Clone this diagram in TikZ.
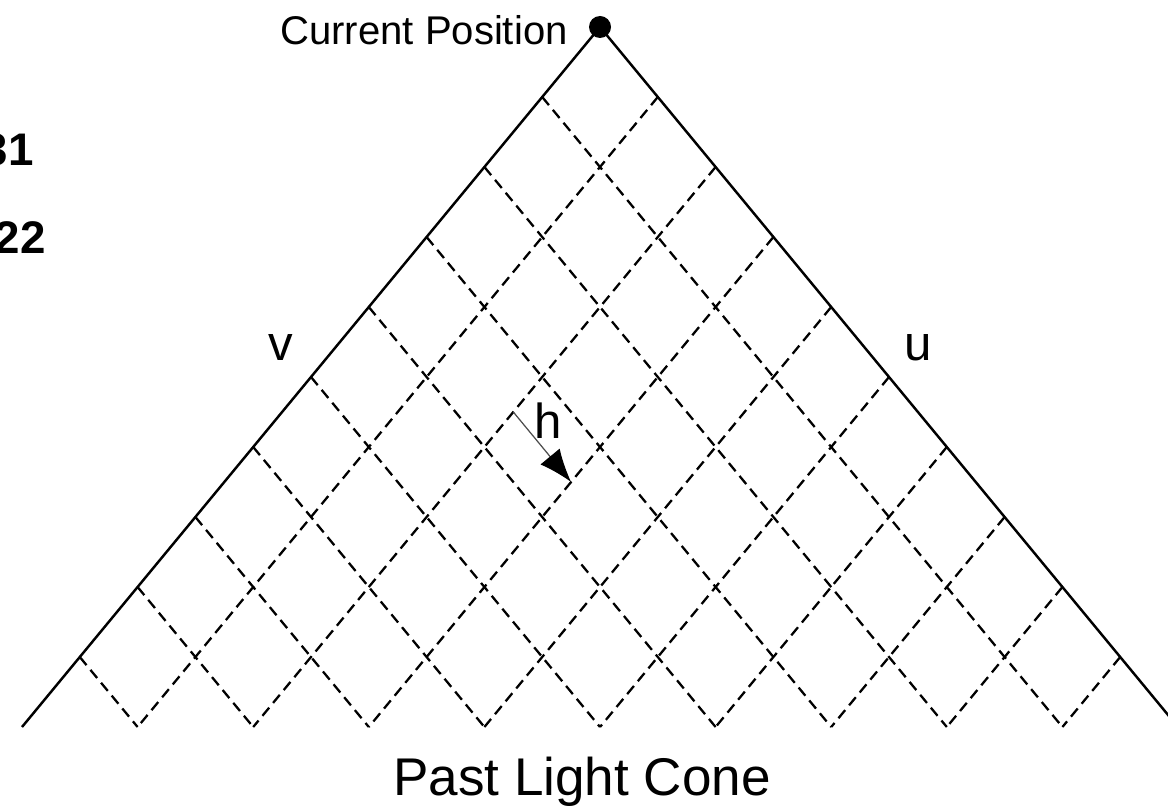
\documentclass[tikz,border=0pt]{standalone}
\usepackage{fontspec}
\setmainfont{Liberation Sans}
\usetikzlibrary{arrows.meta}

\begin{document}
\begin{tikzpicture}[
  cone/.style={black,line width=1.4pt},
  lattice/.style={black,line width=1.3pt,dash pattern=on 6pt off 3.5pt},
  lbl/.style={inner sep=0pt,font=\fontsize{28}{34}\selectfont}]
\clip (0.000,0.000) rectangle (23.360,-16.140);
% light cone edges
\coordinate (apex) at (12.000,-0.540);
\coordinate (leftEnd) at (0.440,-14.540);
\coordinate (rightEnd) at (23.560,-14.540);
\draw[cone] (leftEnd) -- (apex) -- (rightEnd);
% lines parallel to the right edge
\draw[lattice] (10.844,-1.940) -- (21.248,-14.540);
\draw[lattice] (9.688,-3.340) -- (18.936,-14.540);
\draw[lattice] (8.532,-4.740) -- (16.624,-14.540);
\draw[lattice] (7.376,-6.140) -- (14.312,-14.540);
\draw[lattice] (6.220,-7.540) -- (12.000,-14.540);
\draw[lattice] (5.064,-8.940) -- (9.688,-14.540);
\draw[lattice] (3.908,-10.340) -- (7.376,-14.540);
\draw[lattice] (2.752,-11.740) -- (5.064,-14.540);
\draw[lattice] (1.596,-13.140) -- (2.752,-14.540);
% lines parallel to the left edge
\draw[lattice] (13.156,-1.940) -- (2.752,-14.540);
\draw[lattice] (14.312,-3.340) -- (5.064,-14.540);
\draw[lattice] (15.468,-4.740) -- (7.376,-14.540);
\draw[lattice] (16.624,-6.140) -- (9.688,-14.540);
\draw[lattice] (17.780,-7.540) -- (12.000,-14.540);
\draw[lattice] (18.936,-8.940) -- (14.312,-14.540);
\draw[lattice] (20.092,-10.340) -- (16.624,-14.540);
\draw[lattice] (21.248,-11.740) -- (18.936,-14.540);
\draw[lattice] (22.404,-13.140) -- (21.248,-14.540);
% step h
\coordinate (hFrom) at (10.266,-8.240);
\coordinate (hTo) at (11.422,-9.640);
\draw[black!70,line width=0.7pt,-{Latex[black,length=0.66cm,width=0.5cm]}] (hFrom) -- (hTo);
% current position
\node[circle,fill=black,inner sep=0pt,minimum size=0.44cm] (now) at (apex) {};
\node[inner sep=0pt,anchor=base east,font=\fontsize{22.8}{27}\selectfont] (nowText) at (11.360,-0.900) {Current Position};
\node[lbl,anchor=base] (vText) at (5.620,-7.200) {v};
\node[lbl,anchor=base] (uText) at (18.360,-7.200) {u};
\node[lbl,anchor=base] (hText) at (10.960,-8.760) {h};
\node[inner sep=0pt,anchor=base,font=\fontsize{30.2}{36}\selectfont] (title) at (11.640,-15.900) {Past Light Cone};
\node[inner sep=0pt,anchor=base east,font=\fontsize{26}{31}\selectfont\bfseries] (numA) at (0.680,-3.300) {31};
\node[inner sep=0pt,anchor=base east,font=\fontsize{26}{31}\selectfont\bfseries] (numB) at (0.920,-5.060) {22};
\end{tikzpicture}
\end{document}
